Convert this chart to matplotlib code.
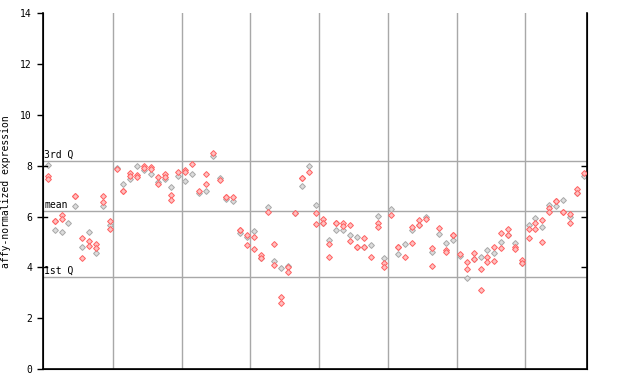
import matplotlib
matplotlib.use("Agg")
import matplotlib.pyplot as plt

# expression values per sample (79 samples), split by colour
red_vals = [
    [7.6, 7.5], [5.84, 5.84], [6.06, 5.9], [], [6.82, 6.82],
    [5.16, 4.37], [5.03, 4.83], [4.91, 4.75], [6.8, 6.59], [5.84, 5.5],
    [7.87], [7.01, 7.01], [7.7, 7.6], [7.64, 7.55], [7.99, 7.91],
    [7.97, 7.86], [7.57, 7.27], [7.67, 7.57], [6.85, 6.65], [7.75],
    [7.83, 7.74], [8.07], [7.02], [7.68, 7.28], [8.49],
    [7.44], [6.79, 6.79], [6.76], [5.46, 5.46], [5.28, 4.88],
    [5.19, 4.72], [4.48, 4.36], [6.18], [4.91, 4.08], [2.82, 2.59],
    [4.0, 3.83], [6.14], [7.53, 7.53], [7.76], [6.13, 5.7],
    [5.89, 5.74], [4.91, 4.4], [5.74, 5.74], [5.74, 5.62], [5.66, 5.04],
    [4.82, 4.82], [5.14, 4.82], [4.4], [5.74, 5.6], [4.19, 4.0],
    [6.05], [4.82, 4.82], [4.4], [5.6, 4.95], [5.87, 5.67],
    [5.92], [4.75, 4.04], [5.56], [4.69, 4.6], [5.29, 5.29],
    [4.53], [4.23, 3.92], [4.55, 4.34], [3.92, 3.1], [4.4, 4.2],
    [4.79, 4.24], [5.34, 4.75], [5.5, 5.28], [4.82, 4.71], [4.31, 4.19],
    [5.5, 5.14], [5.74, 5.5], [5.87, 4.99], [6.33, 6.2], [6.62, 6.62],
    [6.2, 6.2], [6.09, 5.74], [7.07, 6.94], [7.73],
]
grey_vals = [
    [8.03], [5.47], [5.38], [5.75], [6.4],
    [4.79], [5.38], [4.56], [6.4], [5.67],
    [7.93], [7.27], [7.47], [7.99], [7.83],
    [7.68], [7.35], [7.47], [7.15], [7.6],
    [7.39], [7.68], [6.94], [7.0], [8.4],
    [7.52], [6.68], [6.6], [5.34], [5.19],
    [5.45], [4.36], [6.37], [4.27], [3.96],
    [4.06], [6.14], [7.2], [8.0], [6.46],
    [5.74], [5.08], [5.47], [5.47], [5.26],
    [5.19], [4.82], [4.87], [6.02], [4.36],
    [6.31], [4.51], [4.91], [5.47], [5.67],
    [6.0], [4.6], [5.3], [4.95], [5.08],
    [4.45], [3.57], [4.34], [4.4], [4.69],
    [4.55], [4.99], [5.28], [4.95], [4.19],
    [5.66], [5.93], [5.6], [6.46], [6.43],
    [6.64], [6.0], [6.94], [7.6],
]
q1 = 3.62
mean_val = 6.22
q3 = 8.2
group_edges = [9.5, 19.5, 29.5, 39.5, 49.5, 59.5, 69.5]

fig = plt.figure(figsize=(6.4, 3.84), dpi=100)
ax = fig.add_axes([0.0672, 0.039, 0.850, 0.926])

for x in group_edges:
    ax.axvline(x, color="#a8a8a8", lw=1.0, zorder=1)
for y in (q1, mean_val, q3):
    ax.axhline(y, color="#a8a8a8", lw=1.0, zorder=1)

for i, vals in enumerate(grey_vals):
    ax.plot([i] * len(vals), vals, ls="none", marker="D", ms=3.0,
            mfc="#dcdcdc", mec="#a8a8a8", mew=0.7, zorder=2)
for i, vals in enumerate(red_vals):
    ax.plot([i] * len(vals), vals, ls="none", marker="D", ms=3.0,
            mfc="#ffc0c0", mec="#ff6060", mew=0.7, zorder=3)

mono = "DejaVu Sans Mono"
ax.text(-0.55, q3 + 0.05, "3rd Q", fontsize=7, family=mono, va="bottom", ha="left")
ax.text(-0.55, mean_val + 0.05, "mean", fontsize=7, family=mono, va="bottom", ha="left")
ax.text(-0.55, q1 + 0.05, "1st Q", fontsize=7, family=mono, va="bottom", ha="left")

ax.set_xlim(-0.7, 78.5)
ax.set_ylim(0, 14)
ax.set_xticks([])
ax.set_yticks([0, 2, 4, 6, 8, 10, 12, 14])
ax.set_yticklabels(["0", "2", "4", "6", "8", "10", "12", "14"], family=mono, fontsize=7)
ax.tick_params(axis="y", length=4, width=1, direction="out", pad=4)
ax.set_ylabel("affy-normalized expression", family=mono, fontsize=7)
ax.yaxis.set_label_coords(-0.058, 0.5)

ax.spines["top"].set_visible(False)
for s in ("left", "bottom", "right"):
    ax.spines[s].set_color("black")
    ax.spines[s].set_linewidth(1.2)

# small inner ticks at 4, 6, 8 on both sides
ax2 = ax.twinx()
ax2.set_ylim(0, 14)
ax2.set_yticks([4, 6, 8])
ax2.set_yticklabels([])
ax2.tick_params(axis="y", length=4, width=1, direction="in")
ax2.spines["top"].set_visible(False)
for y in (4, 6, 8):
    ax.plot([-0.7, -0.1], [y, y], color="black", lw=1, zorder=4, clip_on=False)

fig.savefig("out.png", dpi=100)
